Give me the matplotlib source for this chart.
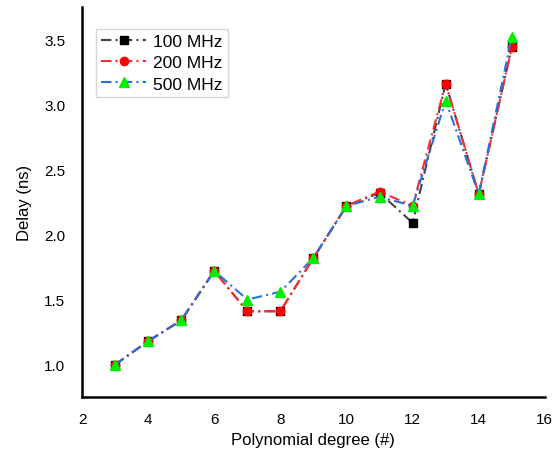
import matplotlib.pyplot as plt

plt.rcParams['font.family'] = ['Liberation Sans', 'DejaVu Sans']

# Data
degree = [3, 4, 5, 6, 7, 8, 9, 10, 11, 12, 13, 14, 15]
delay_100 = [1.00, 1.18, 1.34, 1.72, 1.41, 1.41, 1.82, 2.22, 2.32, 2.09, 3.16, 2.31, 3.44]
delay_200 = [1.00, 1.18, 1.34, 1.72, 1.41, 1.41, 1.82, 2.22, 2.33, 2.22, 3.16, 2.31, 3.44]
delay_500 = [1.00, 1.18, 1.34, 1.72, 1.50, 1.56, 1.82, 2.22, 2.29, 2.22, 3.03, 2.31, 3.52]

fig = plt.figure(figsize=(5.59, 4.64), dpi=100)
ax = fig.add_axes([0.1467, 0.142, 0.828, 0.841])

dash = (5, 2, 1, 2)
ax.plot(degree, delay_100, color='#444444', dashes=dash, lw=1.5,
        marker='s', ms=5.5, mfc='black', mec='black', label='100 MHz')
ax.plot(degree, delay_200, color='#ff2a2a', dashes=dash, lw=1.5,
        marker='o', ms=6, mfc='red', mec='red', label='200 MHz')
ax.plot(degree, delay_500, color='#2a6fdb', dashes=dash, lw=1.5,
        marker='^', ms=7, mfc='#00ee00', mec='#00ee00', label='500 MHz')

ax.set_xlim(2, 16)
ax.set_ylim(0.75, 3.75)
ax.set_xticks(range(2, 17, 2))
ax.set_yticks([1.0, 1.5, 2.0, 2.5, 3.0, 3.5])
ax.set_yticklabels(['1.0', '1.5', '2.0', '2.5', '3.0', '3.5'])
ax.tick_params(length=0, labelsize=11, pad=12)
ax.tick_params(axis='x', pad=11)

for s in ['top', 'right']:
    ax.spines[s].set_visible(False)
for s in ['left', 'bottom']:
    ax.spines[s].set_linewidth(1.8)

ax.set_xlabel('Polynomial degree (#)', fontsize=12, labelpad=4)
ax.set_ylabel('Delay (ns)', fontsize=12, labelpad=9)

leg = ax.legend(loc='upper left', bbox_to_anchor=(0.03, 0.944), fontsize=12.5,
                frameon=True, fancybox=False, edgecolor='#cccccc',
                handlelength=2.6, handletextpad=0.4, borderpad=0.3,
                labelspacing=0.35, borderaxespad=0)
leg.get_frame().set_linewidth(1.0)

plt.savefig('out.png', dpi=100)
